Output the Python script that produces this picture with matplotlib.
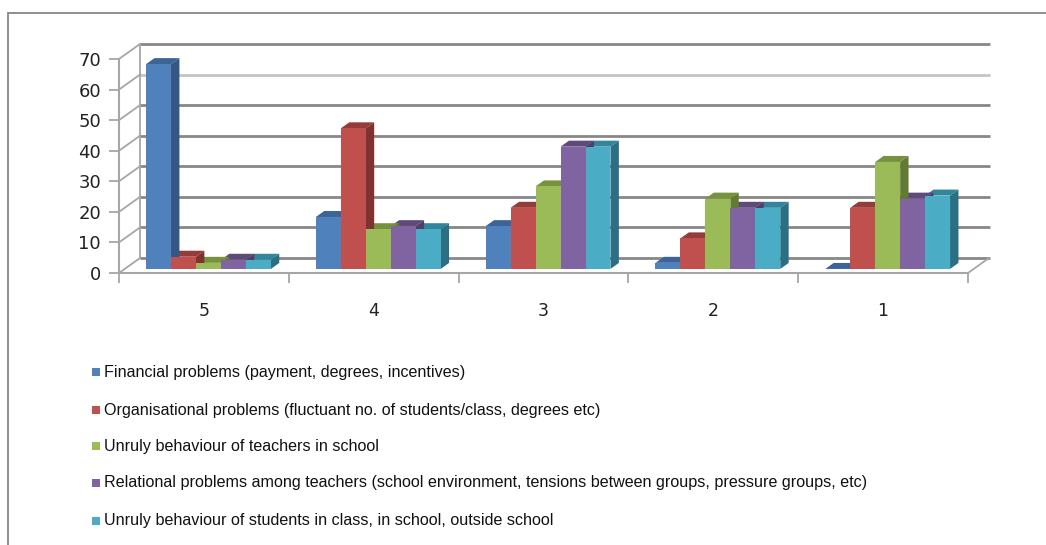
import matplotlib
matplotlib.use("Agg")
import matplotlib.pyplot as plt
from matplotlib.patches import Polygon, Rectangle
import numpy as np

categories = ["5", "4", "3", "2", "1"]
series_names = [
    "Financial problems (payment, degrees, incentives)",
    "Organisational problems (fluctuant no. of students/class, degrees etc)",
    "Unruly behaviour of teachers in school",
    "Relational problems among teachers (school environment, tensions between groups, pressure groups, etc)",
    "Unruly behaviour of students in class, in school, outside school",
]
financial = [67, 17, 14, 2, 0]
organisational = [4, 46, 20, 10, 20]
teachers_behaviour = [2, 13, 27, 23, 35]
relational = [3, 14, 40, 20, 23]
students_behaviour = [3, 13, 40, 20, 24]
series = [financial, organisational, teachers_behaviour, relational, students_behaviour]

yticks = [0, 10, 20, 30, 40, 50, 60, 70]

face_cols = ["#4f81bd", "#c0504d", "#9bbb59", "#8064a2", "#4bacc6"]
top_cols = ["#3c6496", "#953b39", "#76923c", "#5f4b7a", "#31859c"]
side_cols = ["#345883", "#7f3331", "#627a33", "#4f3e66", "#2a6f82"]

W, H = 1046, 545
fig = plt.figure(figsize=(W / 100, H / 100), dpi=100)
fig.patch.set_facecolor("white")

# outer border
fig.add_artist(Rectangle((8 / W, -0.05), 1.1, (545 - 13) / H + 0.05,
                         transform=fig.transFigure, fill=False,
                         edgecolor="#868686", linewidth=1.3))

# axes = front plane; x in groups, y in values
x0, x1 = 119, 968
y0, y70 = 273, 59
ax = fig.add_axes([x0 / W, (H - y0) / H, (x1 - x0) / W, (y0 - y70) / H])
ax.set_xlim(0, 5)
ax.set_ylim(0, 70)
ax.patch.set_alpha(0)
for s in ax.spines.values():
    s.set_visible(False)

px_x = 5 / (x1 - x0)
px_y = 70 / (y0 - y70)
DX, DY = 21 * px_x, 15 * px_y  # full depth in data units

grid_col = "#878787"
# back wall grid
for v in yticks:
    col = "#c4c4c4" if v == 60 else grid_col
    ax.plot([DX, 5 + DX + 1 * px_x], [v + DY, v + DY], color=col, lw=2.0,
            clip_on=False, zorder=1, solid_capstyle="butt")
    # left wall diagonals
    ax.plot([0, DX], [v, v + DY], color="#a6a6a6", lw=1.3, clip_on=False, zorder=1)
# back left vertical
ax.plot([DX, DX], [DY, 70 + DY], color="#a6a6a6", lw=1.3, clip_on=False, zorder=1)
# front left vertical
ax.plot([0, 0], [0, 70], color="#a6a6a6", lw=1.5, clip_on=False, zorder=5)
# floor
ax.plot([0, 5], [0, 0], color="#a6a6a6", lw=1.5, clip_on=False, zorder=1)
ax.plot([5, 5 + DX], [0, DY], color="#a6a6a6", lw=1.3, clip_on=False, zorder=1)

# bars
bw = 0.147
start = 0.126
s_front = 0.27
s_depth = 0.40
fx, fy = s_front * DX, s_front * DY
bx, by = s_depth * DX, s_depth * DY
for g in range(len(categories)):
    for k, vals in enumerate(series):
        v = vals[g]
        left = g + start + k * bw + fx
        base = fy
        top = base + v
        z = 3 + g * 0.01 - k * 0.001
        ax.add_patch(Rectangle((left, base), bw, v, facecolor=face_cols[k],
                               edgecolor="none", zorder=z + 0.5, clip_on=False))
        ax.add_patch(Polygon([(left, top), (left + bw, top), (left + bw + bx, top + by),
                              (left + bx, top + by)], closed=True,
                             facecolor=top_cols[k], edgecolor="none", zorder=z, clip_on=False))
        ax.add_patch(Polygon([(left + bw, base), (left + bw + bx, base + by),
                              (left + bw + bx, top + by), (left + bw, top)], closed=True,
                             facecolor=side_cols[k], edgecolor="none", zorder=z, clip_on=False))

# ticks
ax.set_xticks(np.arange(0, 6))
ax.set_xticklabels([])
ax.set_xticks(np.arange(len(categories)) + 0.5, minor=True)
ax.set_xticklabels(categories, minor=True, fontsize=12.5, color="#222222")
ax.tick_params(axis="x", which="major", direction="out", length=7, color="#a6a6a6", width=1.3)
ax.tick_params(axis="x", which="minor", length=0, pad=21)
ax.set_yticks(yticks)
ax.set_yticklabels([str(v) for v in yticks], fontsize=13, color="#222222")
ax.tick_params(axis="y", direction="out", length=7, color="#a6a6a6", width=1.3, pad=6)

# legend
leg_y = [372, 410, 446, 483, 521]
for k, name in enumerate(series_names):
    yy = (H - leg_y[k]) / H
    fig.add_artist(Rectangle((92 / W, yy - 4 / H), 8 / W, 8 / H, transform=fig.transFigure,
                             facecolor=face_cols[k], edgecolor="none"))
    fig.text(104 / W, yy, name, fontsize=11.6, family="Liberation Sans",
             va="center", ha="left", color="#111111")

fig.savefig("out.png", dpi=100)
